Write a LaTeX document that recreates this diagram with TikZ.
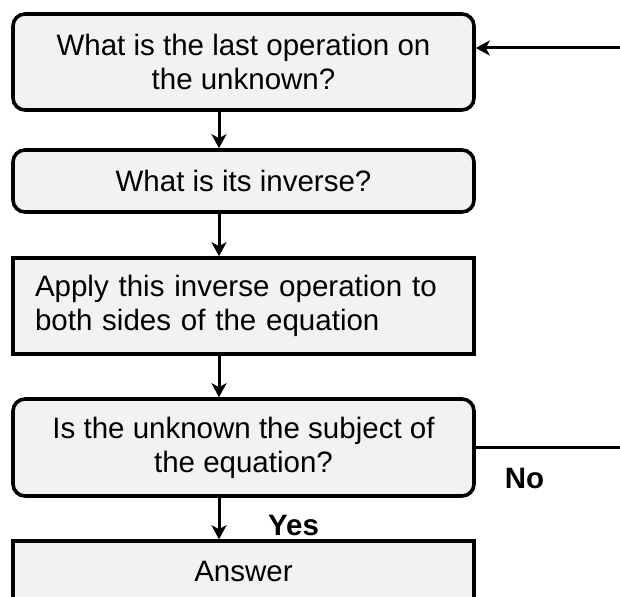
\documentclass[tikz,border=0pt]{standalone}
\usepackage{fontspec}
\setmainfont{Liberation Sans}
\usetikzlibrary{arrows.meta,calc}
\definecolor{boxfill}{HTML}{F2F2F2}
\begin{document}
\begin{tikzpicture}[x=1pt,y=-1pt,
  font=\fontsize{29.5}{34}\selectfont,
  boxbase/.style={draw=black, line width=3.6pt, fill=boxfill, minimum width=461pt, align=center, inner sep=0pt},
  roundbox/.style={boxbase, rounded corners=12pt},
  sqbox/.style={boxbase},
  arr/.style={line width=3pt, -{Stealth[length=14pt,width=15pt,inset=4pt]}},
  lbl/.style={font=\fontsize{29.5}{34}\selectfont\bfseries, anchor=base}
]
\useasboundingbox (0,0) rectangle (620,596);
\clip (0,0) rectangle (620,596);

\node[roundbox, minimum height=96pt] (b1) at (243.5,62) {What is the last operation on\\the unknown?};
\node[roundbox, minimum height=62pt] (b2) at (243.5,181) {What is its inverse?};
\node[sqbox, minimum height=96pt, text width=417pt, align=left, inner xsep=22pt] (b3) at (243.5,306) {Apply this inverse operation to\\both sides of the equation};
\node[roundbox, minimum height=97pt] (b4) at (243.5,447.5) {Is the unknown the subject of\\the equation?};
\node[sqbox, minimum height=61pt] (b5) at (243.5,571.5) {Answer};

\coordinate (ax) at (219,0);
\coordinate (r1) at (650,447.5);
\coordinate (r2) at (650,48);

\draw[arr] (b1.south -| ax) -- (b2.north -| ax);
\draw[arr] (b2.south -| ax) -- (b3.north -| ax);
\draw[arr] (b3.south -| ax) -- (b4.north -| ax);
\draw[arr] (b4.south -| ax) -- (b5.north -| ax);
\draw[arr] (b4.east) -- (r1) -- (r2) -- (r2 -| b1.east);

\node[lbl] (no) at (524.5,488) {No};
\node[lbl] (yes) at (293.5,535) {Yes};
\end{tikzpicture}
\end{document}
